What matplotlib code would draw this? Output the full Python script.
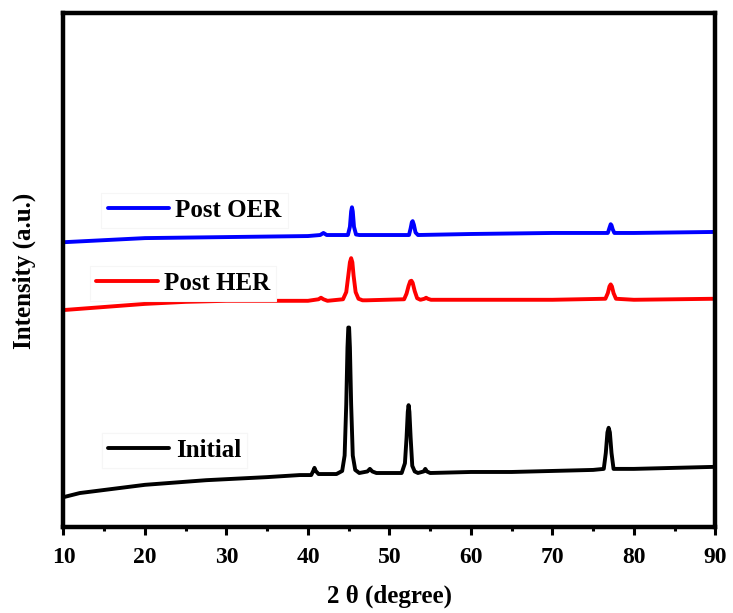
import matplotlib
matplotlib.use("Agg")
import matplotlib.pyplot as plt
from matplotlib.ticker import MultipleLocator

# XRD patterns (2 theta in degree, intensity in a.u.)
x_initial = [10, 11, 12, 13.5, 15, 17.5, 20, 22.5, 25, 27.5, 30, 35, 39,
             40.4, 40.65, 40.8, 40.95, 41.3, 43.5, 44.2, 44.5, 44.7, 44.85,
             44.95, 45.05, 45.15, 45.3, 45.5, 45.8, 46.3, 47.3, 47.6, 47.9,
             48.4, 51.5, 51.9, 52.1, 52.25, 52.35, 52.45, 52.6, 52.8, 53.1,
             53.5, 54.2, 54.4, 54.6, 55.0, 60, 65, 70, 75, 76.3, 76.55, 76.75,
             76.9, 77.05, 77.25, 77.5, 80, 85, 90]
y_initial = [5.9, 6.3, 6.7, 7.0, 7.3, 7.8, 8.3, 8.6, 8.9, 9.2, 9.4, 9.8, 10.2,
             10.2, 11.0, 11.6, 11.0, 10.4, 10.4, 11.0, 14.0, 24.0, 35.0,
             38.9, 38.9, 35.0, 24.0, 14.0, 11.2, 10.6, 10.9, 11.4, 10.9,
             10.6, 10.6, 12.5, 17.5, 22.5, 23.8, 22.5, 17.5, 12.0, 10.9,
             10.6, 10.9, 11.4, 10.9, 10.6, 10.8, 10.8, 11.0, 11.2, 11.4,
             14.5, 18.5, 19.4, 18.5, 14.5, 11.4, 11.4, 11.6, 11.8]

x_her = [10, 12.5, 15, 17.5, 20, 25, 30, 35, 40, 41.3, 41.6, 41.9, 42.4, 44.3,
         44.7, 44.95, 45.15, 45.3, 45.45, 45.6, 45.85, 46.2, 46.7, 47.2, 51.8,
         52.1, 52.35, 52.55, 52.7, 52.85, 53.1, 53.4, 53.8, 54.3, 54.5, 54.7,
         55.1, 60, 70, 76.5, 76.8, 77.0, 77.15, 77.3, 77.5, 77.8, 80, 90]
y_her = [42.3, 42.6, 42.9, 43.2, 43.5, 43.9, 44.1, 44.1, 44.1, 44.4, 44.7, 44.4,
         44.1, 44.4, 45.8, 49.0, 51.6, 52.4, 51.6, 49.0, 45.8, 44.5, 44.2, 44.2,
         44.4, 45.5, 47.0, 47.9, 48.0, 47.6, 46.0, 44.6, 44.3, 44.5, 44.7, 44.5,
         44.3, 44.3, 44.3, 44.5, 45.6, 46.9, 47.3, 46.9, 45.6, 44.5, 44.3, 44.5]

x_oer = [10, 12.5, 15, 17.5, 20, 25, 30, 40, 41.5, 41.9, 42.3, 44.9, 45.15,
         45.3, 45.4, 45.5, 45.65, 45.9, 46.3, 52.4, 52.6, 52.75, 52.85, 53.0,
         53.2, 53.5, 60, 70, 76.8, 77.0, 77.15, 77.25, 77.4, 77.6, 80, 90]
y_oer = [55.5, 55.7, 55.9, 56.1, 56.3, 56.4, 56.5, 56.7, 56.9, 57.3, 56.9, 56.9,
         58.5, 61.5, 62.3, 61.5, 58.5, 57.0, 56.9, 56.9, 58.2, 59.4, 59.6, 58.9,
         57.4, 56.9, 57.1, 57.3, 57.3, 58.3, 59.0, 58.8, 58.0, 57.3, 57.3, 57.5]

labels = ["Post OER", "Post HER", "Initial"]

plt.rcParams["font.family"] = ["Liberation Serif", "DejaVu Serif"]
plt.rcParams["font.weight"] = "bold"

fig = plt.figure(figsize=(7.33, 6.13), dpi=100)
ax = fig.add_axes([0.0866, 0.1395, 0.8894, 0.8385])

style = dict(lw=2.8, solid_joinstyle="round", solid_capstyle="round")
line_oer, = ax.plot(x_oer, y_oer, color="#0000ff", **style)
line_her, = ax.plot(x_her, y_her, color="#ff0000", **style)
line_ini, = ax.plot(x_initial, y_initial, color="black", **style)

ax.set_xlim(10, 90)
ax.set_ylim(0, 100)
ax.xaxis.set_major_locator(MultipleLocator(10))
ax.xaxis.set_minor_locator(MultipleLocator(5))
ax.set_yticks([])
for s in ax.spines.values():
    s.set_linewidth(3.2)
ax.tick_params(axis="x", which="major", direction="out", length=6, width=2.2,
               labelsize=17, pad=8)
ax.tick_params(axis="x", which="minor", direction="out", length=3, width=2.2)
for lab in ax.get_xticklabels():
    lab.set_fontweight("bold")

ax.set_xlabel("2 θ (degree)", fontsize=18, fontweight="bold", labelpad=12)
ax.set_ylabel("Intensity (a.u.)", fontsize=18, fontweight="bold", labelpad=20)

# three separate legends, one next to each curve
legend_spots = [(line_oer, labels[0], (0.058, 0.617)),
                (line_her, labels[1], (0.041, 0.475)),
                (line_ini, labels[2], (0.059, 0.150))]
for handle, text, anchor in legend_spots:
    leg = ax.legend([handle], [text], loc="center left", bbox_to_anchor=anchor,
                    borderaxespad=0, borderpad=0.25, handlelength=2.45,
                    handletextpad=0.25, fancybox=False, framealpha=1,
                    edgecolor="#f6f6f6", prop={"size": 18, "weight": "bold"})
    leg.get_frame().set_linewidth(0.8)
    ax.add_artist(leg)

fig.savefig("out.png", dpi=100)
